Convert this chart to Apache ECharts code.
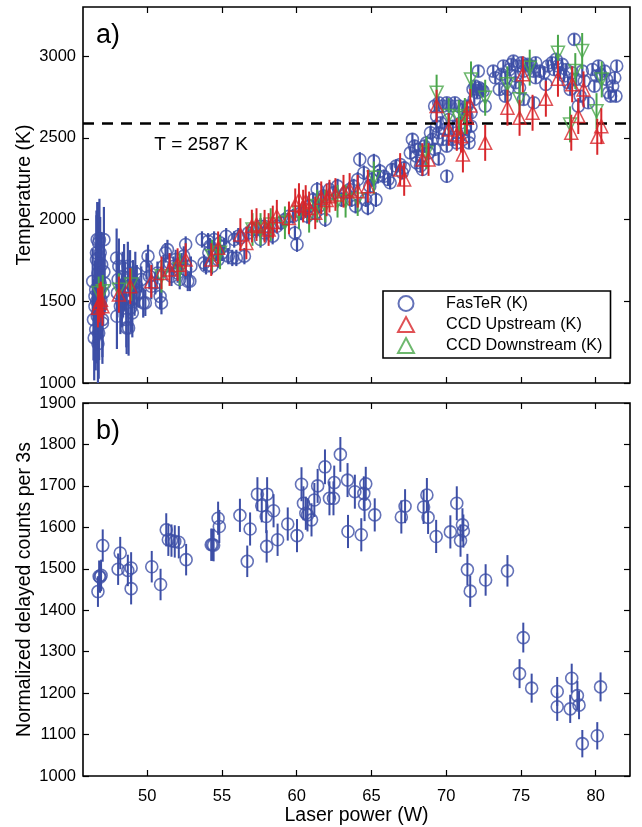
<!DOCTYPE html>
<html>
<head>
<meta charset="utf-8">
<script src="https://cdn.jsdelivr.net/npm/echarts@6/dist/echarts.min.js"></script>
<style>
html,body{margin:0;padding:0;background:#fff;}
#c{width:642px;height:827px;}
</style>
</head>
<body>
<div id="c"></div>
<script>
// ---------- Panel a: FasTeR (K) ----------
var fasterPower = [
46.35,46.40,46.45,46.50,46.55,46.60,46.65,46.70,46.72,46.75,46.80,46.85,46.90,46.95,47.00,47.05,47.10,46.60,46.75,46.85,47.00,46.55,46.70,46.90,47.10,46.50,47.15,46.65,46.78,46.62,
47.95,47.97,48.00,48.05,48.10,48.20,48.35,48.38,48.50,48.60,48.62,48.75,48.70,48.85,48.92,49.00,49.05,49.15,49.20,49.30,48.30,48.90,48.45,
49.46,49.60,49.73,49.87,49.95,50.05,50.14,50.27,50.54,50.68,50.86,50.95,51.08,51.22,51.35,51.49,51.62,51.76,51.90,52.03,52.17,52.30,52.44,52.57,52.71,52.85,52.92,52.57,
53.66,53.80,53.93,54.07,54.12,54.20,54.33,54.47,54.60,54.74,54.87,55.01,55.14,55.28,55.42,55.69,55.96,
55.82,56.09,56.23,56.50,56.77,57.04,57.31,57.58,57.58,57.85,57.85,58.12,58.39,
58.67,58.94,59.21,59.48,59.75,59.88,60.02,60.29,60.56,60.70,60.83,61.10,61.24,61.50,61.64,61.91,61.78,61.37,
62.19,62.46,62.73,63.00,63.27,63.54,63.67,63.81,63.94,64.08,64.22,64.49,64.62,64.76,64.89,65.03,65.16,65.30,65.43,65.57,
65.84,66.11,66.25,66.38,66.65,66.92,67.06,67.19,
67.60,67.74,67.88,68.01,68.01,68.14,68.28,68.41,68.41,68.55,68.68,68.82,68.95,69.09,69.23,69.36,69.50,70.04,
69.23,69.36,69.50,69.50,69.63,69.77,69.77,69.90,70.04,70.04,70.17,70.31,70.44,70.44,70.58,70.71,70.71,70.85,70.99,71.12,71.12,71.26,71.39,71.39,71.53,71.53,71.66,71.66,
71.80,71.88,71.93,72.07,72.15,72.20,72.34,72.47,72.61,
73.15,73.29,73.56,73.69,73.83,73.96,73.96,74.10,74.23,74.37,74.50,74.64,74.64,74.78,74.91,75.05,75.18,75.18,75.32,75.45,75.72,75.86,75.86,75.99,75.99,76.27,76.54,76.67,76.81,77.08,
77.21,77.35,77.48,77.62,77.76,77.89,78.03,78.16,78.30,78.43,78.57,78.70,78.84,78.97,79.11,79.24,79.51,79.79,79.92,80.06,80.19,80.33,80.60,80.73,80.87,81.00,81.14,81.28,81.36,81.41
];
var fasterTemp = [
1622,1388,1276,1469,1571,1755,1877,1673,1429,1306,1877,1612,1510,1724,1367,1551,1877,1796,1857,1796,1388,1327,1240,1470,1680,1530,1610,1410,1560,1500,
1765,1408,1551,1633,1714,1469,1653,1551,1592,1388,1337,1337,1714,1673,1510,1429,1612,1551,1673,1592,1500,1460,1700,
1551,1633,1490,1490,1714,1776,1653,1592,1612,1673,1530,1490,1714,1796,1816,1735,1653,1714,1755,1673,1633,1735,1776,1847,1622,1622,1714,1694,
1878,1735,1714,1867,1796,1837,1714,1878,1796,1755,1857,1796,1837,1898,1776,1765,1765,
1878,1898,1888,1776,1918,1939,1939,1959,1878,1959,1918,1939,1898,
1959,1980,2000,2020,2020,1918,1847,2041,2061,2020,2082,2122,2041,2082,2122,2000,2143,2184,
2184,2163,2204,2122,2163,2184,2122,2204,2082,2245,2367,2286,2122,2071,2204,2245,2357,2122,2265,2296,
2265,2245,2225,2306,2327,2337,2286,2316,
2408,2490,2449,2388,2347,2429,2327,2388,2306,2449,2469,2408,2531,2490,2429,2571,2371,2265,
2694,2633,2714,2531,2592,2694,2490,2551,2714,2449,2612,2694,2571,2490,2714,2531,2469,2694,2592,2673,2490,2551,2694,2633,2510,2469,2653,2571,
2796,2735,2816,2776,2908,2806,2796,2786,2694,
2908,2867,2796,2888,2939,2867,2755,2796,2918,2949,2969,2878,2837,2939,2806,2959,2908,2735,2939,2949,2939,2908,2714,2959,2867,2908,2898,2827,2939,2959,
2918,2980,2939,2898,2949,2878,2918,2837,2796,2898,3102,2857,2694,2755,2908,2847,2714,2918,2816,2878,2939,2888,2908,2857,2776,2755,2816,2867,2755,2939
];
var fasterErr = [
200,250,260,220,230,300,230,250,260,280,250,200,220,200,250,200,200,230,250,220,230,250,260,200,180,220,180,240,420,380,
180,200,150,160,170,170,150,150,150,170,160,170,150,140,150,150,140,140,130,130,160,150,150,
90,80,90,80,80,70,80,80,70,70,80,70,70,60,60,60,60,60,60,60,60,60,60,50,60,60,60,60,
50,50,50,50,50,50,50,50,50,50,50,50,50,50,50,50,50,
50,50,50,50,50,50,50,50,50,50,50,50,50,
45,45,45,45,45,45,45,45,45,45,45,45,45,45,45,45,45,45,
45,45,45,45,45,45,45,45,45,45,45,45,45,45,45,45,45,45,45,45,
40,40,40,40,40,40,40,40,
40,40,40,40,40,40,40,40,40,40,40,40,40,40,40,40,40,40,
35,35,35,35,35,35,35,35,35,35,35,35,35,35,35,35,35,35,35,35,35,35,35,35,35,35,35,35,
35,35,35,35,35,35,35,35,35,
35,35,35,35,35,35,35,35,35,35,35,35,35,35,35,35,35,35,35,35,35,35,35,35,35,35,35,35,35,35,
35,35,35,35,35,35,35,35,35,35,35,35,35,35,35,35,35,35,35,35,35,35,35,35,35,35,35,35,35,35
];

// ---------- Panel a: CCD Upstream (K) ----------
var upPower = [46.70,46.80,46.90,47.00,48.10,48.86,50.27,50.95,51.49,52.03,52.57,54.28,54.74,56.23,56.63,57.00,57.31,57.85,58.12,58.40,58.67,59.48,59.90,60.15,60.43,60.60,60.83,61.24,61.64,62.00,62.19,62.59,63.13,63.54,64.08,64.76,66.92,67.19,68.41,68.82,69.36,70.17,70.71,70.99,71.12,71.39,71.61,72.61,74.10,74.91,75.13,75.78,76.67,77.48,78.37,78.43,78.84,79.19,80.11,80.38];
var upTemp  = [1460,1490,1510,1470,1541,1592,1622,1673,1694,1724,1755,1755,1827,1908,1857,1960,1969,1959,1939,1985,2020,2010,2090,2122,2082,2110,2071,2041,2133,2120,2143,2153,2173,2184,2173,2204,2306,2245,2367,2367,2694,2551,2520,2510,2398,2622,2698,2469,2684,2622,2888,2653,2739,2861,2531,2827,2633,2796,2506,2571];
var upErr   = [120,120,110,120,110,110,100,100,100,100,100,100,100,100,100,100,100,100,100,100,100,100,100,100,100,100,100,100,100,100,100,100,100,100,100,100,100,100,100,100,100,100,100,100,110,100,100,110,110,110,110,110,110,110,110,110,110,110,110,110];

// ---------- Panel a: CCD Downstream (K) ----------
var downPower = [46.75,47.02,48.10,48.92,50.95,52.17,54.33,54.87,57.04,57.58,58.26,59.21,60.15,60.83,61.37,61.91,62.73,63.27,64.08,65.16,68.68,69.36,70.17,70.85,71.25,71.66,72.61,74.10,74.91,75.59,77.48,78.29,78.64,79.10,80.06,80.41];
var downTemp  = [1551,1561,1571,1602,1653,1694,1776,1796,1939,1939,1969,1980,2041,2020,2082,2082,2112,2112,2122,2255,2408,2776,2633,2622,2633,2857,2745,2827,2735,2929,3020,2582,2908,3031,2663,2857];
var downErr   = [100,100,100,100,100,100,100,100,100,100,100,100,100,100,100,100,100,100,100,100,100,110,110,110,110,110,110,110,110,110,110,110,110,110,110,110];

// ---------- Panel b: normalized delayed counts ----------
var countsPower = [46.70,46.78,46.84,46.91,47.02,48.05,48.19,48.70,48.92,48.92,50.30,50.89,51.27,51.41,51.62,51.84,52.11,52.60,54.28,54.36,54.44,54.74,54.82,56.20,56.69,56.88,57.37,57.66,58.02,57.96,57.99,58.45,58.72,59.40,60.02,60.32,60.45,60.61,60.72,60.99,61.18,61.40,61.89,62.19,62.46,62.51,62.92,63.40,63.43,63.89,64.32,64.49,64.54,64.62,65.22,67.00,67.25,68.49,68.71,68.79,69.33,70.28,70.71,70.96,71.09,71.15,71.42,71.61,72.64,74.10,74.91,75.16,75.72,77.43,77.43,78.30,78.40,78.78,78.89,79.11,80.11,80.33];
var counts      = [1445,1482,1480,1484,1556,1499,1538,1496,1502,1452,1505,1462,1594,1570,1568,1566,1564,1522,1558,1558,1557,1622,1602,1629,1518,1596,1680,1652,1680,1626,1554,1640,1570,1608,1580,1704,1658,1634,1630,1618,1666,1700,1746,1670,1670,1708,1776,1714,1590,1686,1582,1682,1656,1705,1630,1625,1651,1649,1678,1624,1578,1589,1658,1568,1606,1591,1498,1446,1473,1495,1247,1334,1212,1204,1167,1162,1236,1194,1171,1078,1097,1215];
var countsErr   = [37,38,38,38,39,38,39,38,38,38,38,38,40,39,39,39,39,38,39,39,39,40,40,40,38,40,41,40,41,40,39,40,39,40,40,41,41,40,40,40,41,41,42,41,41,41,42,41,40,41,40,41,41,41,40,40,41,41,41,40,40,40,41,39,40,40,38,38,38,38,35,36,35,35,34,34,35,35,34,33,33,35];

// ---------- Axis ticks ----------
var xTicks = [50, 55, 60, 65, 70, 75, 80];
var tempTicks = [1000, 1500, 2000, 2500, 3000];
var thresholdT = 2587;

var BLUE = '#3d4fa6', RED = '#d8262b', GREEN = '#4aa64a';
var FONT = 'Liberation Sans, Arial, Helvetica, sans-serif';

function pts(xs, ys) { return xs.map(function (x, i) { return [x, ys[i]]; }); }
function errs(xs, ys, es) { return xs.map(function (x, i) { return [x, ys[i] - es[i], ys[i] + es[i]]; }); }
function plain(v) { return String(v); }

function errRender(color, width) {
  return function (params, api) {
    var x = api.value(0), lo = api.value(1), hi = api.value(2);
    var p1 = api.coord([x, lo]), p2 = api.coord([x, hi]);
    var cs = params.coordSys;
    var top = cs.y, bot = cs.y + cs.height;
    var y1 = Math.min(Math.max(p1[1], top), bot);
    var y2 = Math.min(Math.max(p2[1], top), bot);
    return { type: 'line', shape: { x1: p1[0], y1: y1, x2: p2[0], y2: y2 },
             style: { stroke: color, lineWidth: width } };
  };
}

var chart = echarts.init(document.getElementById('c'), null, { renderer: 'canvas' });

var tickCommon = { show: true, inside: true, length: 6, lineStyle: { color: '#000', width: 1.2 } };
function xAx(grid, pos, labels) {
  var o = {
    type: 'value', gridIndex: grid, position: pos, min: 45.7, max: 82.3,
    axisLine: { show: false }, splitLine: { show: false },
    axisTick: Object.assign({ customValues: xTicks }, tickCommon),
    axisLabel: { show: labels, customValues: xTicks, formatter: plain, color: '#000', fontSize: 16.5, fontFamily: FONT, margin: 12 }
  };
  if (labels) {
    o.name = 'Laser power (W)'; o.nameLocation = 'middle'; o.nameGap = 30; o.nameMoveOverlap = false;
    o.nameTextStyle = { color: '#000', fontSize: 19.5, fontFamily: FONT };
  }
  return o;
}
function yAx(grid, pos, labels, min, max, interval, ticks, name, gap) {
  var o = {
    type: 'value', gridIndex: grid, position: pos, min: min, max: max, interval: interval,
    axisLine: { show: false }, splitLine: { show: false },
    axisTick: Object.assign({}, tickCommon),
    axisLabel: { show: labels, formatter: plain, color: '#000', fontSize: 16.5, fontFamily: FONT, margin: 7 }
  };
  if (ticks) { o.axisTick.customValues = ticks; o.axisLabel.customValues = ticks; }
  if (name) {
    o.name = name; o.nameLocation = 'middle'; o.nameGap = gap; o.nameRotate = 90; o.nameMoveOverlap = false;
    o.nameTextStyle = { color: '#000', fontSize: 19.5, fontFamily: FONT };
  }
  return o;
}

var option = {
  backgroundColor: '#fff',
  animation: false,
  textStyle: { fontFamily: FONT },
  grid: [
    { left: 83, top: 7, width: 547, height: 376, show: true, borderColor: '#000', borderWidth: 1.6, backgroundColor: 'transparent' },
    { left: 83, top: 403, width: 547, height: 375, show: true, borderColor: '#000', borderWidth: 1.6, backgroundColor: 'transparent' }
  ],
  xAxis: [ xAx(0, 'bottom', false), xAx(0, 'top', false), xAx(1, 'bottom', true), xAx(1, 'top', false) ],
  yAxis: [
    yAx(0, 'left', true, 1000, 3300, 500, tempTicks, 'Temperature (K)', 48),
    yAx(0, 'right', false, 1000, 3300, 500, tempTicks, null),
    yAx(1, 'left', true, 1000, 1900, 100, null, 'Normalized delayed counts per 3s', 48),
    yAx(1, 'right', false, 1000, 1900, 100, null, null)
  ],
  legend: {
    left: 383, top: 291, orient: 'vertical',
    data: ['FasTeR (K)', 'CCD Upstream (K)', 'CCD Downstream (K)'],
    backgroundColor: '#fff', borderColor: '#000', borderWidth: 1.6,
    padding: [4, 8, 4, 14], itemWidth: 16, itemHeight: 15, itemGap: 4,
    textStyle: { color: '#000', fontSize: 16.2, fontFamily: FONT, padding: [0, 0, 0, 27] }
  },
  graphic: [
    { type: 'text', left: 96, top: 22, style: { text: 'a)', fontSize: 27, fontFamily: FONT, fill: '#000' } },
    { type: 'text', left: 96, top: 418, style: { text: 'b)', fontSize: 27, fontFamily: FONT, fill: '#000' } }
  ],
  series: [
    { type: 'custom', name: 'fasterErr', xAxisIndex: 0, yAxisIndex: 0, renderItem: errRender(BLUE, 2.2),
      data: errs(fasterPower, fasterTemp, fasterErr), encode: { x: 0, y: [1, 2] }, silent: true, z: 2 },
    { type: 'scatter', name: 'FasTeR (K)', xAxisIndex: 0, yAxisIndex: 0, symbol: 'circle', symbolSize: 12,
      itemStyle: { color: 'rgba(0,0,0,0)', borderColor: BLUE, borderWidth: 1.6 },
      data: pts(fasterPower, fasterTemp), z: 3 },
    { type: 'custom', name: 'downErr', xAxisIndex: 0, yAxisIndex: 0, renderItem: errRender(GREEN, 2),
      data: errs(downPower, downTemp, downErr), encode: { x: 0, y: [1, 2] }, silent: true, z: 4 },
    { type: 'scatter', name: 'CCD Downstream (K)', xAxisIndex: 0, yAxisIndex: 0, symbol: 'triangle', symbolRotate: 180, symbolSize: 13,
      itemStyle: { color: 'rgba(0,0,0,0)', borderColor: GREEN, borderWidth: 1.5 },
      data: pts(downPower, downTemp), z: 5 },
    { type: 'custom', name: 'upErr', xAxisIndex: 0, yAxisIndex: 0, renderItem: errRender(RED, 2),
      data: errs(upPower, upTemp, upErr), encode: { x: 0, y: [1, 2] }, silent: true, z: 6 },
    { type: 'scatter', name: 'CCD Upstream (K)', xAxisIndex: 0, yAxisIndex: 0, symbol: 'triangle', symbolSize: 13,
      itemStyle: { color: 'rgba(0,0,0,0)', borderColor: RED, borderWidth: 1.5 },
      data: pts(upPower, upTemp), z: 7,
      markLine: { silent: true, symbol: 'none', label: { show: false },
        lineStyle: { color: '#000', type: [11, 8], width: 2.5 },
        data: [{ yAxis: thresholdT }] },
      markPoint: { silent: true, symbol: 'circle', symbolSize: 0,
        label: { show: true, position: 'inside', formatter: 'T = ' + thresholdT + ' K', color: '#000', fontSize: 19, fontFamily: FONT },
        data: [{ coord: [53.6, 2460] }] } },
    { type: 'custom', name: 'countsErr', xAxisIndex: 2, yAxisIndex: 2, renderItem: errRender(BLUE, 2),
      data: errs(countsPower, counts, countsErr), encode: { x: 0, y: [1, 2] }, silent: true, z: 2 },
    { type: 'scatter', name: 'counts', xAxisIndex: 2, yAxisIndex: 2, symbol: 'circle', symbolSize: 12,
      itemStyle: { color: 'rgba(0,0,0,0)', borderColor: BLUE, borderWidth: 1.6 },
      data: pts(countsPower, counts), z: 3 }
  ]
};
chart.setOption(option);
</script>
</body>
</html>
